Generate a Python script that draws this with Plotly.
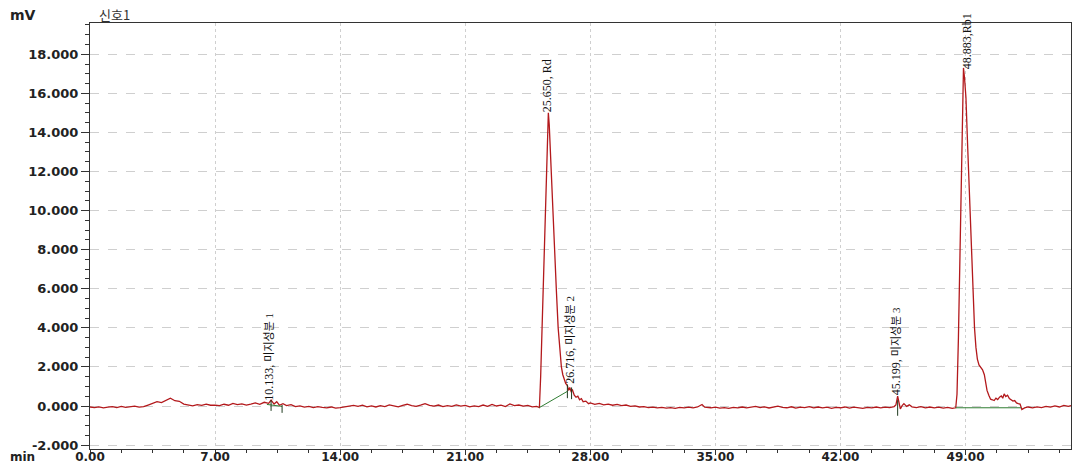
import plotly.graph_objects as go

# Detector signal (time in min, response in mV)
time_min = [
    0.0, 0.25, 0.5, 0.75, 1.0, 1.25, 1.5, 1.75, 2.0, 2.25, 2.5, 2.75, 3.0, 3.25, 3.5, 3.75,
    4.0, 4.25, 4.5, 4.75, 5.0, 5.25, 5.5, 5.75, 6.0, 6.25, 6.5, 6.75, 7.0, 7.25, 7.5, 7.75,
    8.0, 8.25, 8.5, 8.75, 9.0, 9.25, 9.5, 9.75, 10.0, 10.133, 10.3, 10.45, 10.6, 10.8,
    11.0, 11.25, 11.5, 11.75, 12.0, 12.25, 12.5, 12.75, 13.0, 13.25, 13.5, 13.75, 14.0,
    14.25, 14.5, 14.75, 15.0, 15.25, 15.5, 15.75, 16.0, 16.25, 16.5, 16.75, 17.0, 17.25,
    17.5, 17.75, 18.0, 18.25, 18.5, 18.75, 19.0, 19.25, 19.5, 19.75, 20.0, 20.25, 20.5,
    20.75, 21.0, 21.25, 21.5, 21.75, 22.0, 22.25, 22.5, 22.75, 23.0, 23.25, 23.5, 23.75,
    24.0, 24.25, 24.5, 24.75, 25.0, 25.15,
    25.22, 25.3, 25.42, 25.52, 25.6, 25.65, 25.7, 25.78, 25.88, 25.99, 26.1, 26.2, 26.3,
    26.38, 26.46, 26.55, 26.62, 26.716, 26.78, 26.85, 26.92, 27.0, 27.1, 27.2, 27.3, 27.4,
    27.5, 27.6, 27.75, 27.9, 28.0, 28.25, 28.5, 28.75, 29.0, 29.25, 29.5, 29.75, 30.0,
    30.25, 30.5, 30.75, 31.0, 31.25, 31.5, 31.75, 32.0, 32.25, 32.5, 32.75, 33.0, 33.25,
    33.5, 33.75, 34.0, 34.25, 34.4, 34.75, 35.0, 35.25, 35.5, 35.75, 36.0, 36.25, 36.5,
    36.75, 37.0, 37.25, 37.5, 37.75, 38.0, 38.25, 38.5, 38.75, 39.0, 39.25, 39.5, 39.75,
    40.0, 40.25, 40.5, 40.75, 41.0, 41.25, 41.5, 41.75, 42.0, 42.25, 42.5, 42.75, 43.0,
    43.25, 43.5, 43.75, 44.0, 44.25, 44.5, 44.75, 45.0, 45.1, 45.199, 45.28, 45.35, 45.45,
    45.55, 45.7, 45.85, 46.0, 46.25, 46.5, 46.75, 47.0, 47.25, 47.5, 47.75, 48.0, 48.25,
    48.45,
    48.52, 48.6, 48.68, 48.76, 48.83, 48.883, 48.94, 49.02, 49.12, 49.22, 49.33, 49.42,
    49.5, 49.58, 49.66, 49.75, 49.85, 49.95, 50.05, 50.12, 50.2, 50.3, 50.4, 50.5, 50.6,
    50.7, 50.8, 50.9, 51.0, 51.08, 51.16, 51.25, 51.35, 51.45, 51.55, 51.65, 51.75, 51.85,
    51.95, 52.05, 52.15, 52.3, 52.5, 52.75, 53.0, 53.25, 53.5, 53.75, 54.0, 54.25, 54.5,
    54.75, 54.9,
]
signal_mv = [
    -0.05, -0.08, -0.04, -0.09, -0.06, -0.03, -0.08, -0.02, -0.07, -0.04, -0.01, -0.06, -0.03, 0.05, 0.14, 0.22,
    0.17, 0.30, 0.40, 0.27, 0.24, 0.10, 0.06, 0.01, 0.07, 0.03, 0.10, 0.04, 0.05, 0.02, 0.09, 0.04,
    0.13, 0.07, 0.11, 0.05, 0.10, 0.16, 0.09, 0.19, 0.14, 0.30, 0.10, 0.22, 0.04, 0.12,
    0.02, 0.07, -0.03, 0.01, -0.06, -0.02, -0.08, -0.03, -0.07, -0.10, -0.05, -0.11, -0.08,
    -0.03, -0.01, 0.03, -0.02, 0.04, -0.04, 0.01, -0.05, 0.02, -0.03, 0.06, 0.01, -0.04,
    0.03, 0.09, 0.02, -0.02, 0.04, 0.12, 0.03, -0.01, 0.05, -0.03, 0.02, -0.02, 0.06,
    -0.01, 0.03, -0.04, 0.01, -0.03, 0.05, -0.02, 0.08, 0.00, 0.04, -0.03, 0.11, 0.02,
    0.05, -0.01, 0.03, -0.04, -0.02, -0.08,
    1.5, 4.2, 8.0, 11.8, 14.2, 15.0, 14.4, 12.6, 10.2, 8.0, 5.9, 4.0, 2.7,
    2.0, 1.6, 1.3, 1.15, 1.05, 0.8, 0.95, 0.75, 0.82, 0.55, 0.45, 0.5, 0.32,
    0.38, 0.22, 0.25, 0.12, 0.16, 0.08, 0.13, 0.06, 0.10, 0.04, 0.08, 0.02, 0.05,
    -0.02, 0.01, -0.05, -0.03, -0.08, -0.06, -0.10, -0.07, -0.11, -0.08, -0.12, -0.07, -0.10,
    -0.06, -0.09, -0.05, 0.08, -0.06, -0.09, -0.06, -0.11, -0.08, -0.12, -0.07, -0.10, -0.05,
    -0.09, -0.06, -0.02, -0.08, -0.04, -0.10, -0.05, -0.01, -0.07, -0.09, -0.04, -0.11, -0.06,
    -0.08, -0.03, -0.09, -0.05, -0.10, -0.06, -0.12, -0.07, -0.09, -0.05, -0.11, -0.06, -0.08,
    -0.12, -0.07, -0.10, -0.05, -0.09, -0.06, -0.08, -0.03, 0.05, 0.50, 0.05, -0.15, 0.02,
    0.12, -0.02, 0.06, -0.04, -0.08, -0.03, -0.09, -0.05, -0.10, -0.06, -0.11, -0.07, -0.12,
    -0.09,
    0.6, 3.5, 8.0, 12.5, 16.0, 17.3, 16.8, 15.8, 13.2, 10.6, 8.0, 5.8,
    4.0, 3.0, 2.4, 2.1, 2.0, 1.85, 1.6, 1.1, 0.8, 0.55, 0.35, 0.32, 0.28,
    0.40, 0.33, 0.45, 0.52, 0.40, 0.62, 0.48, 0.55, 0.38, 0.30, 0.25, 0.28, 0.16,
    0.12, 0.10, -0.18, -0.10, -0.05, -0.09, -0.04, -0.08, -0.02, -0.06, 0.01, -0.05, 0.03,
    -0.02, 0.02,
]

# Integration baselines drawn under the Rd and Rb1 peaks
rd_base_t = [25.15, 26.716]
rd_base_mv = [-0.08, 0.75]
rb1_base_t = [48.45, 52.1]
rb1_base_mv = [-0.09, -0.09]
p1_base_t = [9.9, 10.75]
p1_base_mv = [0.08, -0.02]

# Peak start/end marker ticks: time, low mV, high mV
marker_t = [10.133, 10.75, 26.716, 26.95, 45.199]
marker_lo = [-0.25, -0.35, 0.40, 0.35, -0.50]
marker_hi = [0.30, 0.05, 1.10, 0.95, 0.30]

# Peak labels: retention time, compound name, label x (min), label bottom (mV)
label_rt = ["10.133", "25.650", "26.716", "45.199", "48.883"]
label_name = ["미지성분 1", "Rd", "미지성분 2", "미지성분 3", "Rb1"]
label_sep = [", ", ", ", ", ", ", ", ","]
label_t = [10.05, 25.62, 26.82, 45.1, 49.05]
label_mv = [0.2, 15.0, 1.1, 0.5, 17.2]

x_ticks = [0, 7, 14, 21, 28, 35, 42, 49]
y_ticks = [-2, 0, 2, 4, 6, 8, 10, 12, 14, 16, 18]

RED = "#b3191c"
GREEN = "#2f7d32"
MARK = "#1e3a1e"
AXIS_FONT = "DejaVu Sans, Verdana, sans-serif"

fig = go.Figure()

fig.add_trace(go.Scatter(x=time_min, y=signal_mv, mode="lines",
                         line=dict(color=RED, width=1.3), hoverinfo="skip"))
for bt, bv in [(rd_base_t, rd_base_mv), (rb1_base_t, rb1_base_mv), (p1_base_t, p1_base_mv)]:
    fig.add_trace(go.Scatter(x=bt, y=bv, mode="lines",
                             line=dict(color=GREEN, width=1), hoverinfo="skip"))

mx, my = [], []
for t, lo, hi in zip(marker_t, marker_lo, marker_hi):
    mx += [t, t, None]
    my += [lo, hi, None]
fig.add_trace(go.Scatter(x=mx, y=my, mode="lines",
                         line=dict(color=MARK, width=1), hoverinfo="skip"))

for rt, name, sep, t, v in zip(label_rt, label_name, label_sep, label_t, label_mv):
    if name.isascii():
        txt = f"{rt}{sep}{name}"
    else:
        txt = f"{rt}{sep}<span style='font-size:11px'>{name}</span>"
    fig.add_annotation(x=t, y=v, xref="x", yref="y", text=txt, showarrow=False,
                       textangle=-90, xanchor="center", yanchor="bottom", borderpad=0,
                       font=dict(family="Liberation Serif, Noto Sans CJK KR", size=12, color="#111"))

y_tick_font = dict(family=AXIS_FONT, size=13, color="#222", weight="bold")
x_tick_font = dict(family=AXIS_FONT, size=12, color="#222", weight="bold")

fig.update_xaxes(range=[0, 54.9], tickvals=x_ticks, ticktext=[f"{v:.2f}" for v in x_ticks],
                 ticks="outside", ticklen=5, tickcolor="#333", tickfont=x_tick_font,
                 ticklabelstandoff=-8, automargin=False,
                 showline=True, linecolor="#333", linewidth=1, mirror=True,
                 showgrid=True, gridcolor="#cfcfcf", griddash="dot", gridwidth=1,
                 minor=dict(dtick=1.75, tick0=0, ticks="outside", ticklen=3, tickcolor="#333", showgrid=False),
                 zeroline=False)
fig.update_yaxes(range=[-2.2, 19.6], tickvals=y_ticks, ticktext=[f"{v:.3f}" for v in y_ticks],
                 ticks="outside", ticklen=8, tickcolor="#333", tickfont=y_tick_font,
                 automargin=False,
                 showline=True, linecolor="#333", linewidth=1, mirror=True,
                 showgrid=True, gridcolor="#cfcfcf", griddash="dash", gridwidth=1,
                 minor=dict(dtick=0.5, tick0=0, ticks="outside", ticklen=4, tickcolor="#333", showgrid=False),
                 zeroline=False)

fig.add_annotation(x=8, y=15, xref="paper", yref="paper", xanchor="left", yanchor="middle",
                   text="mV", showarrow=False,
                   font=dict(family=AXIS_FONT, size=14, color="#222", weight="bold"))
fig.add_annotation(x=97, y=15, xref="paper", yref="paper", xanchor="left", yanchor="middle",
                   text="신호1", showarrow=False,
                   font=dict(family="Noto Sans CJK KR", size=13, color="#333"))
fig.add_annotation(x=8, y=457, xref="paper", yref="paper", xanchor="left", yanchor="middle",
                   text="min", showarrow=False,
                   font=dict(family=AXIS_FONT, size=12, color="#222", weight="bold"))

# convert the pixel-placed corner captions to paper coordinates
W, H = 1073, 466
L, R, T, B = 90, 2, 23, 17
pw, ph = W - L - R, H - T - B
for ann in fig.layout.annotations:
    if ann.xref == "paper":
        ann.x = (ann.x - L) / pw
        ann.y = 1 - (ann.y - T) / ph

fig.update_layout(width=W, height=H, margin=dict(l=L, r=R, t=T, b=B, autoexpand=False),
                  paper_bgcolor="white", plot_bgcolor="white", showlegend=False)

fig.write_html("out.html")
